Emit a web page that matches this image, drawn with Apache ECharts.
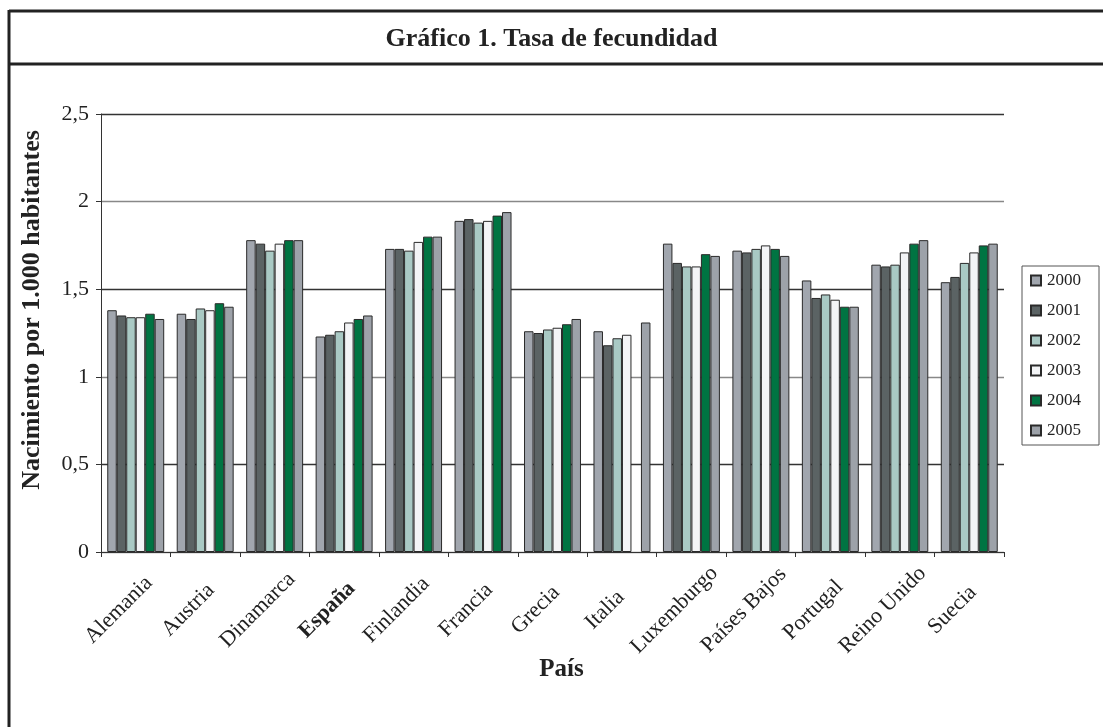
<!DOCTYPE html>
<html>
<head>
<meta charset="utf-8">
<script src="https://cdn.jsdelivr.net/npm/echarts@6/dist/echarts.min.js"></script>
<style>
html,body{margin:0;padding:0;background:#fff;}
#chart{width:1103px;height:727px;}
</style>
</head>
<body>
<div id="chart"></div>
<script>
const categories = ['Alemania','Austria','Dinamarca','España','Finlandia','Francia','Grecia','Italia','Luxemburgo','Países Bajos','Portugal','Reino Unido','Suecia'];
const years = ['2000','2001','2002','2003','2004','2005'];
const y2000 = [1.38,1.36,1.78,1.23,1.73,1.89,1.26,1.26,1.76,1.72,1.55,1.64,1.54];
const y2001 = [1.35,1.33,1.76,1.24,1.73,1.90,1.25,1.18,1.65,1.71,1.45,1.63,1.57];
const y2002 = [1.34,1.39,1.72,1.26,1.72,1.88,1.27,1.22,1.63,1.73,1.47,1.64,1.65];
const y2003 = [1.34,1.38,1.76,1.31,1.77,1.89,1.28,1.24,1.63,1.75,1.44,1.71,1.71];
const y2004 = [1.36,1.42,1.78,1.33,1.80,1.92,1.30,null,1.70,1.73,1.40,1.76,1.75];
const y2005 = [1.33,1.40,1.78,1.35,1.80,1.94,1.33,1.31,1.69,1.69,1.40,1.78,1.76];
const yTickLabels = {0:'0',0.5:'0,5',1:'1',1.5:'1,5',2:'2',2.5:'2,5'};
const seriesValues = [y2000,y2001,y2002,y2003,y2004,y2005];
const colors = ['#a1a6ae','#5b6364','#a9c9c4','#f3f4f6','#007442','#9da2a9'];

const FONT = '"Liberation Serif", "DejaVu Serif", serif';
const chart = echarts.init(document.getElementById('chart'));
chart.setOption({
  animation: false,
  textStyle: {fontFamily: FONT},
  title: {
    text: 'Gráfico 1. Tasa de fecundidad',
    left: 'center', top: 21,
    textStyle: {fontFamily: FONT, fontSize: 26, fontWeight: 'bold', color: '#222'}
  },
  graphic: [
    {type:'line', shape:{x1:9,y1:11,x2:1103,y2:11}, style:{stroke:'#222',lineWidth:3}},
    {type:'line', shape:{x1:9,y1:64,x2:1103,y2:64}, style:{stroke:'#222',lineWidth:3}},
    {type:'line', shape:{x1:9,y1:10,x2:9,y2:727}, style:{stroke:'#222',lineWidth:3}}
  ],
  legend: {
    data: years,
    orient: 'vertical',
    left: 1022, top: 266,
    itemWidth: 10, itemHeight: 10,
    itemGap: 13,
    padding: [6, 18, 6, 8],
    borderColor: '#555', borderWidth: 1,
    icon: 'rect',
    textStyle: {fontFamily: FONT, fontSize: 17, color: '#222', lineHeight: 17, padding: [0, 0, 0, 1]}
  },
  grid: {left: 101, right: 99, top: 114, bottom: 175, containLabel: false},
  xAxis: {
    type: 'category',
    data: categories,
    name: 'País',
    nameLocation: 'middle',
    nameGap: 105,
    nameMoveOverlap: false,
    nameTextStyle: {fontFamily: FONT, fontSize: 25, fontWeight: 'bold', color: '#222', padding: [0, 0, 0, 18]},
    axisLine: {lineStyle: {color: '#333', width: 1}},
    axisTick: {show: true, length: 5, lineStyle: {color: '#333'}},
    axisLabel: {
      interval: 0,
      rotate: 45,
      align: 'center',
      verticalAlign: 'middle',
      margin: 58,
      padding: [0, 24, 24, 0],
      fontFamily: FONT, fontSize: 22, color: '#222',
      formatter: v => v === 'España' ? '{b|' + v + '}' : v,
      rich: {b: {fontFamily: FONT, fontSize: 22, fontWeight: 'bold', color: '#222'}}
    }
  },
  yAxis: {
    type: 'value',
    min: 0, max: 2.5, interval: 0.5,
    name: 'Nacimiento por 1.000 habitantes',
    nameLocation: 'middle',
    nameGap: 56,
    nameTextStyle: {fontFamily: FONT, fontSize: 26, fontWeight: 'bold', color: '#222', padding: [0, 0, 0, 46]},
    axisLine: {show: true, lineStyle: {color: '#333', width: 1}},
    axisTick: {show: true, length: 5, lineStyle: {color: '#333'}},
    axisLabel: {
      margin: 12, fontFamily: FONT, fontSize: 22, color: '#222',
      formatter: v => yTickLabels[v] !== undefined ? yTickLabels[v] : String(v).replace('.', ',')
    },
    splitLine: {show: true, lineStyle: {color: ['#888', '#333'], width: 1.3}}
  },
  series: years.map((y, i) => ({
    name: y,
    type: 'bar',
    data: seriesValues[i],
    barGap: '0%',
    barCategoryGap: '18%',
    itemStyle: {color: colors[i], borderColor: '#2a2a2a', borderWidth: 1}
  }))
});
</script>
</body>
</html>
